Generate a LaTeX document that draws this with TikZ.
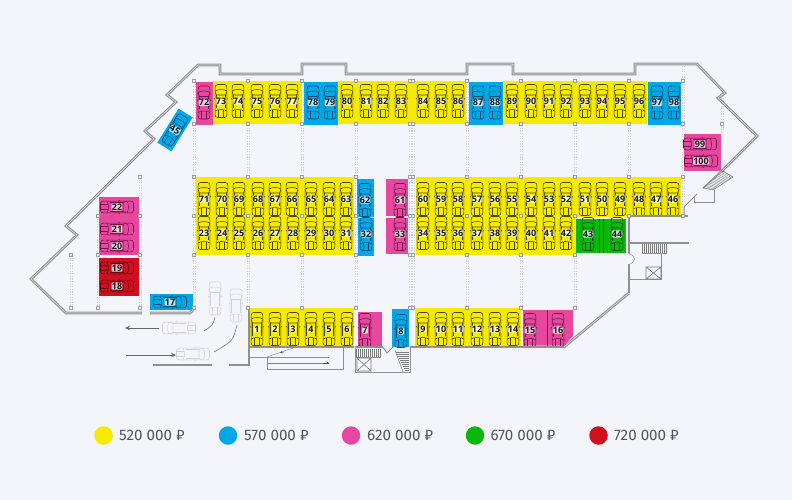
\documentclass[tikz,border=0pt]{standalone}
\usepackage{fontspec}
\setmainfont{Fira Sans}
\newfontfamily\numfont{Open Sans}
\usetikzlibrary{arrows.meta}
\definecolor{bgc}{HTML}{F3F5FA}
\definecolor{yel}{HTML}{F5EA00}
\definecolor{blu}{HTML}{00A9E6}
\definecolor{pnk}{HTML}{E8479E}
\definecolor{grn}{HTML}{0CB80C}
\definecolor{rdd}{HTML}{D0101E}
\definecolor{yelc}{HTML}{4A4600}
\definecolor{bluc}{HTML}{0B4A78}
\definecolor{pnkc}{HTML}{6E1248}
\definecolor{grnc}{HTML}{064F06}
\definecolor{rddc}{HTML}{640A12}
\definecolor{ghost}{HTML}{D2D3D8}
\definecolor{wallc}{HTML}{909092}
\definecolor{legt}{HTML}{555558}
\tikzset{
  x=1pt,y=-1pt,
  wall/.style={draw=wallc,line width=1.05pt,double=bgc!40!wallc!45!white,double distance=.6pt,line join=miter},
  solidwall/.style={draw=wallc,line width=2.2pt,line join=miter},
  thinwall/.style={draw=wallc,line width=1pt},
  hatch/.style={draw=wallc!85!black,line width=.35pt},
  dotcol/.style={draw=black!18,line width=.35pt,dash pattern=on 1.2pt off 1.4pt},
  pillar/.style={draw=black!38,fill=bgc,line width=.45pt,minimum size=3.2pt,inner sep=0pt,rectangle},
  numlabel/.style={font=\numfont\fontsize{9}{9}\selectfont\bfseries,text=black!90,fill=white,fill opacity=.72,text opacity=1,inner sep=.3pt,rounded corners=1pt},
  legtext/.style={font=\fontsize{15.2}{16}\selectfont,text=legt,anchor=west,inner sep=0pt},
  legdot/.style={circle,minimum size=18.5pt,inner sep=0pt},
  flow/.style={draw=black!60,line width=.8pt,-{Stealth[length=5pt,width=4.5pt]}},
  turn/.style={draw=black!55,line width=.6pt},
}
% car: x, y, rotation, colour
\newcommand{\carshape}[4]{%
  \begin{scope}[shift={(#1,#2)},rotate=#3,draw=#4,line width=.55pt]
    \draw (-3.5,-16.5) -- (3.5,-16.5) .. controls (5.3,-16.5) and (5.9,-15) .. (5.9,-13) -- (5.9,13) .. controls (5.9,15.4) and (5.2,16.5) .. (3.5,16.5) -- (-3.5,16.5) .. controls (-5.2,16.5) and (-5.9,15.4) .. (-5.9,13) -- (-5.9,-13) .. controls (-5.9,-15) and (-5.3,-16.5) .. (-3.5,-16.5) -- cycle;
    \draw (-5.9,-10) .. controls (-3,-12) and (3,-12) .. (5.9,-10);
    \draw (-4.6,-6) -- (4.6,-6) (-4.6,-6) -- (-5.9,-9.5) (4.6,-6) -- (5.9,-9.5);
    \draw (-4.6,-6) -- (-4.6,7) (4.6,-6) -- (4.6,7);
    \draw (-5.9,10) .. controls (-3,8) and (3,8) .. (5.9,10);
    \draw (-2.6,9) -- (-2.6,16.4) (2.6,9) -- (2.6,16.4);
    \draw (-7,-2.6) -- (-5.9,-1.6) (7,-2.6) -- (5.9,-1.6);
  \end{scope}}
% vertical spot: number, x, y, colour
\newcommand{\vspot}[4]{%
  \carshape{#2}{#3}{0}{#4}
  \node[numlabel] (s#1) at (#2,#3) {#1};}
\newcommand{\hspot}[4]{%
  \carshape{#2}{#3}{-90}{#4}
  \node[numlabel] (s#1) at (#2,#3) {#1};}
\begin{document}
\begin{tikzpicture}
\useasboundingbox (0,0) rectangle (792,500);
\fill[bgc] (0,0) rectangle (792,500);

% column grid, dotted pairs
\foreach \cx/\ya/\yb in {194/81/308,248/81/308,302/81/308,356/81/308,410/81/308,413/81/308,467/81/308,521/81/308,575/81/308,629/81/216,683/66/216,722/90/134,140/177/308,98/216/308,71/255/308}{
  \draw[dotcol] (\cx-1.3,\ya) -- (\cx-1.3,\yb);
  \draw[dotcol] (\cx+1.3,\ya) -- (\cx+1.3,\yb);
}

% coloured bays
\fill[yel] (213,81) rectangle (302,124);
\fill[pnk] (196,82.5) rectangle (213,125);
\fill[blu] (303.5,82) rectangle (338,125);
\fill[yel] (338,81) rectangle (466,124);
\fill[blu] (469,82) rectangle (503,125);
\fill[yel] (503,81) rectangle (647,124);
\fill[blu] (648,82.5) rectangle (681,125);
\fill[yel] (196,177) rectangle (354,255);
\fill[blu] (357,178.5) rectangle (374,217);
\fill[blu] (358,218) rectangle (373.5,256);
\fill[pnk] (386,179) rectangle (408,216);
\fill[pnk] (386,218) rectangle (408,254);
\fill[yel] (416,177) rectangle (681,216.5);
\fill[yel] (416,216.5) rectangle (576,255);
\fill[grn] (576,219) rectangle (626,253);
\draw[grnc!70!grn,line width=.4pt] (599,219) -- (599,253) (603,219) -- (603,253);
\fill[yel] (249,308) rectangle (354,346);
\fill[pnk] (358,312) rectangle (382,346);
\fill[blu] (392,309) rectangle (409,347);
\fill[yel] (415,308) rectangle (521,346);
\fill[pnk] (523,310) -- (573,310) -- (573,336) -- (564,345.5) -- (523,345.5) -- cycle;
\draw[pnkc!80!pnk,line width=.4pt] (547,310) -- (547,345.5);
\fill[pnk] (99,197) rectangle (139,254.5);
\fill[rdd] (99,258) rectangle (139,296);
\fill[blu] (150,293.5) rectangle (193,310);
\fill[pnk] (684,134) rectangle (721,171);
\begin{scope}[shift={(175,130)},rotate=-32]
  \fill[blu] (-8.3,-20) rectangle (8.3,20);
\end{scope}

% cars and numbers, top row
\vspot{72}{204}{102.5}{pnkc}
\foreach \n/\x in {73/221,74/238,75/257,76/275,77/292,80/347,81/366,82/383,83/401,84/423,85/441,86/458,89/512,90/531,91/549,92/566,93/585,94/602,95/620,96/639}{\vspot{\n}{\x}{101}{yelc}}
\foreach \n/\x in {78/313,79/330,87/478,88/495,97/657,98/674}{\vspot{\n}{\x}{102.5}{bluc}}
% middle rows
\foreach \n/\x in {71/204,70/222,69/239,68/258,67/275,66/292,65/311,64/329,63/346,60/423,59/441,58/458,57/477,56/495,55/512,54/531,53/549,52/566,51/585,50/602,49/620,48/639,47/656,46/673}{\vspot{\n}{\x}{199}{yelc}}
\foreach \n/\x in {23/204,24/222,25/239,26/258,27/275,28/293,29/311,30/329,31/346,34/423,35/441,36/458,37/477,38/495,39/512,40/531,41/549,42/566}{\vspot{\n}{\x}{233}{yelc}}
\vspot{62}{365}{200}{bluc}
\vspot{32}{366}{234}{bluc}
\vspot{61}{400}{200}{pnkc}
\vspot{33}{400}{234}{pnkc}
\vspot{43}{588}{234}{grnc}
\vspot{44}{617}{234}{grnc}
% bottom row
\foreach \n/\x in {1/257,2/275,3/293,4/311,5/329,6/347,9/423,10/441,11/458,12/477,13/495,14/513}{\vspot{\n}{\x}{329}{yelc}}
\vspot{7}{365}{330}{pnkc}
\vspot{8}{401}{331}{bluc}
\vspot{15}{530}{330}{pnkc}
\vspot{16}{558}{330}{pnkc}
% left and right groups
\hspot{22}{117}{207}{pnkc}
\hspot{21}{117}{229}{pnkc}
\hspot{20}{117}{246}{pnkc}
\hspot{19}{117}{268}{rddc}
\hspot{18}{117}{286}{rddc}
\hspot{17}{170}{302}{bluc}
\hspot{99}{700}{144}{pnkc}
\hspot{100}{701}{161}{pnkc}
\carshape{175}{130}{-32}{bluc}
\node[numlabel,rotate=-32] (s45) at (175,130) {45};

% ghost cars and traffic flow
\carshape{215}{298.5}{0}{ghost}
\carshape{236}{305.5}{0}{ghost}
\carshape{179}{328}{90}{ghost}
\carshape{193}{354}{-90}{ghost}
\coordinate (outA) at (159,328);
\coordinate (outB) at (125,328);
\coordinate (inA) at (126,355);
\coordinate (inB) at (176,355);
\draw[flow] (outA) -- (outB);
\draw[flow] (inA) -- (inB);
\coordinate (tA) at (215,317);
\coordinate (tB) at (204,331);
\coordinate (tC) at (237,325);
\coordinate (tD) at (214,352);
\draw[turn] (tA) .. controls (213,325) .. (tB);
\draw[turn] (tC) .. controls (233,341) .. (tD);

% outer walls
\draw[wall] (142,313) -- (66,313) -- (31,279) -- (77,235) -- (66,226) -- (154,139) -- (145,131) -- (176,102) -- (167,95) -- (198,65) -- (220,65) -- (220,74) -- (302,74) -- (302,64) -- (346,64) -- (346,74) -- (467,74) -- (467,64) -- (513,64) -- (513,74) -- (635,74) -- (635,64) -- (697,64) -- (725,93) -- (718,98) -- (757,136) -- (721,172);
\draw[wall] (150,313) -- (190,313) -- (193,310);
\draw[thinwall] (703,188) -- (722,170);
\draw[thinwall] (714,190) -- (714,202) -- (694,202) -- (694,197);
\draw[thinwall] (697,194) -- (684,207) -- (684,215);
\draw[solidwall] (628,216) -- (688,216);
\draw[solidwall] (629,216) -- (629,254);
\draw[solidwall] (629,264) -- (629,293);
\draw[wall] (629,293) -- (564,347);
\draw[solidwall] (564,347) -- (410,347);
\draw[solidwall] (383,347) -- (355,347);
\draw[thinwall] (383,347) -- (387,353) -- (393,347);
\draw[solidwall] (354,347) -- (249,347);
\draw[solidwall] (249,308) -- (249,365) -- (229,365);
\draw[solidwall] (212,365) -- (153,365);
\draw[thinwall] (410,347) -- (410,372) -- (355,372) -- (355,347);
% ramp
\draw[thinwall] (249,357) -- (329,357);
\draw[draw=black!50,line width=.4pt] (267,357) -- (293,348);
\draw[draw=black!50,line width=.4pt] (267,363) -- (329,363);
\draw[thinwall] (267,357) -- (267,369) -- (343,369) -- (343,347);
\draw[draw=black!70,line width=.4pt,-{Stealth[length=2.5pt,width=2.5pt]}] (284,352) -- (280,352.5);
\draw[draw=black!70,line width=.4pt,-{Stealth[length=2.5pt,width=2.5pt]}] (323,363) -- (329,363);
% lift and stairs by bay 7
\foreach \hx in {356,358,...,380}{\draw[hatch] (\hx,349) -- (\hx,357);}
\draw[thinwall] (355,357.5) -- (381,357.5);
\draw[hatch,line width=.6pt] (357,358) rectangle (371,371) (357,358) -- (371,371) (371,358) -- (357,371);
\foreach \hy in {352,354,...,370}{\draw[hatch] (396+\hy/2-176,\hy) -- (409,\hy);}
\draw[hatch,line width=.5pt] (395,350) -- (403,372) ;
% right stairs and lift
\draw[solidwall,line width=1.2pt] (630,243) -- (689,243);
\foreach \hx in {642,644,...,666}{\draw[hatch] (\hx,244) -- (\hx,253);}
\draw[thinwall] (642,253.5) -- (667,253.5);
\draw[thinwall] (661,253) -- (661,279) -- (630,279);
\draw[hatch,line width=.6pt] (646,267) rectangle (661,279) (646,267) -- (661,279) (661,267) -- (646,279);
\draw[hatch] (630,254) .. controls (636,257) and (636,261) .. (630,264);
% stairs top right
\foreach \t in {0,.07,...,1.01}{
  \draw[hatch] ({723-20*\t},{171+17*\t}) -- ({733-20*\t},{177+13*\t});
}
\draw[hatch,line width=.5pt] (723,171) -- (733,177) -- (713,190) -- (703,188) -- cycle;

% pillars
\foreach \py in {81,124,177,216}{
  \foreach \px in {194,248,302,356,410,413,467,521,575,629,683}{
    \node[pillar] (p\px-\py) at (\px,\py) {};
  }
}
\foreach \px in {71,98,140,194,248,302,356,410,413,467,521,575}{
  \node[pillar] (p\px-255) at (\px,255) {};
  \node[pillar] (p\px-308) at (\px,308) {};
}
\node[pillar] (q722) at (722,124) {};
\node[pillar] (q140a) at (140,177) {};
\node[pillar] (q98) at (98,216) {};
\node[pillar] (q140b) at (140,216) {};

% legend
\foreach \cn/\col/\cx/\tx/\val in {a/yel/103.5/119/520,b/blu/228/244/570,c/pnk/351/367/620,d/grn/475/490.5/670,e/rdd/598.5/614/720}{
  \node[legdot,fill=\col] (leg\cn) at (\cx,435.5) {};
  \node[legtext] (txt\cn) at (\tx,435.5) {\val\ 000 ₽};
}
\end{tikzpicture}
\end{document}
